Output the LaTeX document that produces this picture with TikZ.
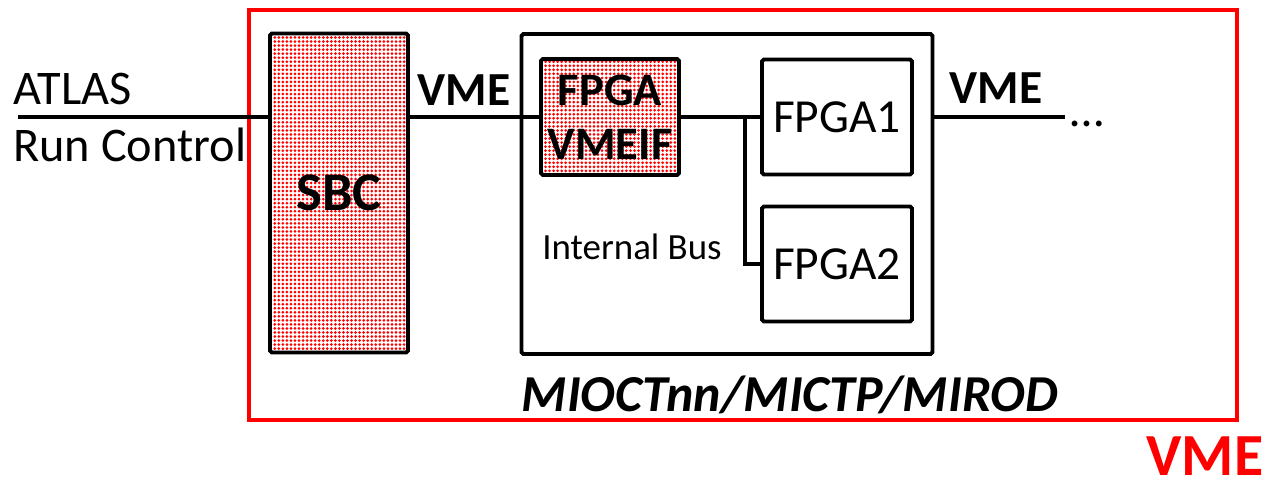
\documentclass[tikz,border=0pt]{standalone}
\usepackage{fontspec}
\setmainfont{Carlito}
\usepackage{tikz}
\usetikzlibrary{positioning,patterns.meta}
\definecolor{vmered}{HTML}{FF0000}
\tikzset{
  cardnode/.style={draw=black, line width=2.2pt, rounded corners=1pt, inner sep=0pt, align=center, font=\fontsize{27}{32}\selectfont},
  dotnode/.style={cardnode, pattern={Dots[distance=2.3pt, radius=0.85pt]}, pattern color=vmered, font=\fontsize{26.5}{31}\selectfont\bfseries},
  cratebox/.style={draw=vmered, line width=2.2pt, minimum width=19.76cm, minimum height=8.2cm},
  busedge/.style={line width=2.2pt, draw=black},
  buslabel/.style={font=\fontsize{27}{32}\selectfont\bfseries, inner sep=0pt},
  plaintext/.style={font=\fontsize{27.5}{32}\selectfont, inner sep=0pt, anchor=base west}
}
\begin{document}
\begin{tikzpicture}[x=0.02cm, y=-0.02cm]
  \useasboundingbox (0,0) rectangle (1269,482);
  \node[cratebox] (crate) at (743,215) {};
  \node[buslabel, font=\fontsize{34}{38}\selectfont\bfseries, text=vmered] (cratelabel) at (1205,456) {VME};
  \node[plaintext] (atlas) at (13,105) {ATLAS};
  \node[plaintext] (runctl) at (13,162) {Run Control};
  \node[dotnode, minimum width=2.76cm, minimum height=6.38cm, font=\fontsize{31}{36}\selectfont\bfseries] (sbc) at (339,193) {SBC};
  \node[cardnode, minimum width=8.22cm, minimum height=6.4cm] (mioct) at (727,194) {};
  \node[dotnode, minimum width=2.76cm, minimum height=2.32cm] (vmeif) at (610,117) {FPGA\\VMEIF};
  \node[cardnode, minimum width=3.0cm, minimum height=2.3cm] (fpga1) at (837,117) {FPGA1};
  \node[cardnode, minimum width=3.0cm, minimum height=2.3cm] (fpga2) at (837,264) {FPGA2};
  \node[buslabel, font=\fontsize{21}{25}\selectfont] (intbus) at (632,247) {Internal Bus};
  \node[buslabel, font=\fontsize{29.5}{34}\selectfont\bfseries\itshape] (mioctlabel) at (790,395) {MIOCTnn/MICTP/MIROD};
  \coordinate (busin) at (18,117);
  \coordinate (busout) at (1065,117);
  \coordinate (tap) at (745,117);
  \node[buslabel] (vmeleft) at (464,90) {VME};
  \node[buslabel] (vmeright) at (996,88) {VME};
  \node[plaintext] (more) at (1070,127) {…};
  \draw[busedge] (busin) -- (busin -| sbc.west);
  \draw[busedge] (sbc.east |- vmeif) -- (vmeif.west);
  \draw[busedge] (vmeif.east) -- (fpga1.west);
  \draw[busedge] (tap) |- (fpga2.west);
  \draw[busedge] (mioct.east |- fpga1) -- (busout);
\end{tikzpicture}
\end{document}
